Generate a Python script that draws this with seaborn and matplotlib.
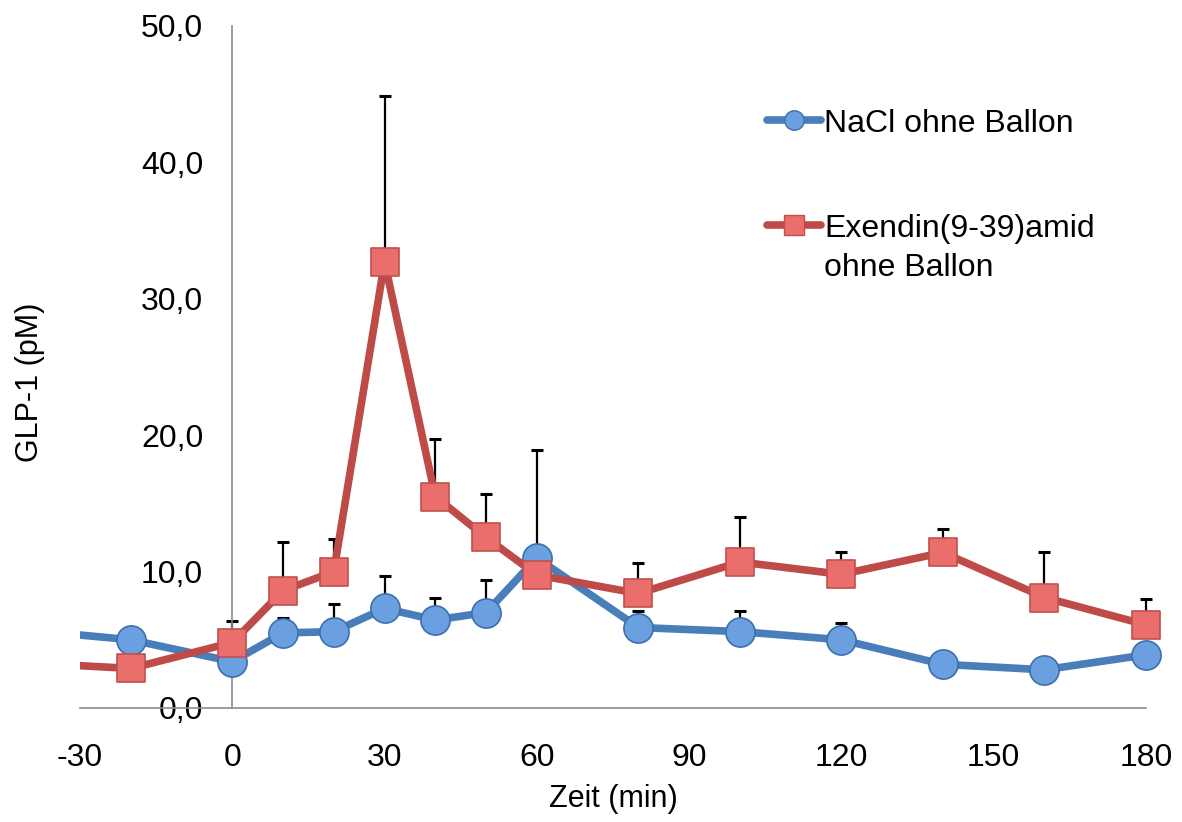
import numpy as np
import pandas as pd
import matplotlib
matplotlib.use("Agg")
import matplotlib.pyplot as plt
from matplotlib.lines import Line2D
from matplotlib.legend_handler import HandlerLine2D
import seaborn as sns

# Sampling times (min); the first sample lies before the visible window
zeit = [-40, -20, 0, 10, 20, 30, 40, 50, 60, 80, 100, 120, 140, 160, 180]

# GLP-1 (pM), mean values
nacl = [5.7, 5.0, 3.4, 5.5, 5.6, 7.3, 6.45, 7.0, 11.0, 5.9, 5.6, 5.0, 3.2, 2.8, 3.9]
exendin = [3.3, 2.9, 4.8, 8.6, 10.0, 32.7, 15.5, 12.5, 9.75, 8.4, 10.7, 9.8, 11.4, 8.1, 6.1]

# Upper end of the error bars (mean + SEM); NaN where no bar is shown
nacl_upper = [np.nan, np.nan, np.nan, 6.6, 7.6, 9.7, 8.1, 9.4, 18.9, 7.1, 7.1, 6.2, np.nan, np.nan, np.nan]
exendin_upper = [np.nan, np.nan, 6.4, 12.2, 12.4, 44.9, 19.7, 15.7, np.nan, 10.6, 14.0, 11.4, 13.1, 11.4, 8.0]

label_nacl = "NaCl ohne Ballon"
label_exendin = "Exendin(9-39)amid\nohne Ballon"

x_ticks = [-30, 0, 30, 60, 90, 120, 150, 180]
y_ticks = [0, 10, 20, 30, 40, 50]
y_ticklabels = ["0,0", "10,0", "20,0", "30,0", "40,0", "50,0"]

X_MIN, X_MAX = -30, 180

sns.set_theme(style="white")
plt.rcParams["font.family"] = ["Liberation Sans", "DejaVu Sans"]
plt.rcParams["text.color"] = "black"
plt.rcParams["axes.labelcolor"] = "black"

fig = plt.figure(figsize=(11.82, 8.22), dpi=100)
ax = fig.add_axes([0.0677, 0.1387, 0.9018, 0.8297])

blue_line = "#4a7ebb"
blue_face = "#6a9fe0"
blue_edge = "#3d6fae"
red_line = "#be4b48"
red_face = "#ea6f6c"
red_edge = "#c0504d"

df = pd.DataFrame({
    "Zeit": zeit * 2,
    "GLP1": nacl + exendin,
    "Gruppe": [label_nacl] * len(zeit) + [label_exendin] * len(zeit),
})
visible = df[(df.Zeit >= X_MIN) & (df.Zeit <= X_MAX)]

# Upper-only error bars, drawn beneath the lines and markers
for means, upper in ((nacl, nacl_upper), (exendin, exendin_upper)):
    m = np.array(means)
    u = np.array(upper)
    ok = ~np.isnan(u)
    ax.errorbar(np.array(zeit)[ok], m[ok], yerr=[np.zeros(ok.sum()), (u - m)[ok]],
                fmt="none", ecolor="black", elinewidth=1.6, capsize=4, capthick=2.2,
                zorder=1, clip_on=False)

series = [
    (label_nacl, blue_line, blue_face, blue_edge, "o", 21, 2),
    (label_exendin, red_line, red_face, red_edge, "s", 20, 4),
]
for label, lc, fc, ec, mk, ms, z in series:
    sub = df[df.Gruppe == label]
    # connecting line, clipped at the plot edges
    sns.lineplot(data=sub, x="Zeit", y="GLP1", ax=ax, color=lc, linewidth=5.5,
                 legend=False, zorder=z)
    # markers at the visible sampling times
    sns.scatterplot(data=visible[visible.Gruppe == label], x="Zeit", y="GLP1", ax=ax,
                    marker=mk, s=ms ** 2, color=fc, edgecolor=ec, linewidth=1.2,
                    legend=False, zorder=z + 1, clip_on=False)

ax.set_xlim(X_MIN, X_MAX)
ax.set_ylim(0, 50)
ax.set_xticks(x_ticks)
ax.set_xticklabels([str(t) for t in x_ticks])
ax.set_yticks(y_ticks)
ax.set_yticklabels(y_ticklabels)

# Value axis crosses the time axis at t = 0
ax.spines["left"].set_position(("data", 0))
for side in ("top", "right"):
    ax.spines[side].set_visible(False)
for side in ("left", "bottom"):
    ax.spines[side].set_color("#8c8c8c")
    ax.spines[side].set_linewidth(1.2)

ax.tick_params(axis="both", which="major", direction="out", length=9, width=1.2,
               color="#8c8c8c", labelsize=23, labelcolor="black")
ax.tick_params(axis="x", pad=16)
ax.tick_params(axis="y", pad=12)

ax.set_xlabel("Zeit (min)", fontsize=22, labelpad=8)
ax.set_ylabel("")
fig.text(0.025, 0.535, "GLP-1 (pM)", rotation=90, fontsize=22, ha="center", va="center")


class FirstLineHandler(HandlerLine2D):
    """Places the legend key level with the first line of a two-line label."""

    def __init__(self, lift=0.0, **kw):
        super().__init__(**kw)
        self.lift = lift

    def create_artists(self, legend, orig_handle, xdescent, ydescent, width, height,
                       fontsize, trans):
        return super().create_artists(legend, orig_handle, xdescent,
                                      ydescent - self.lift * fontsize, width, height,
                                      fontsize, trans)


h_nacl = Line2D([], [], color=blue_line, linewidth=5.5, marker="o", markersize=14,
                markerfacecolor=blue_face, markeredgecolor=blue_edge, markeredgewidth=1.0)
h_exe = Line2D([], [], color=red_line, linewidth=5.5, marker="s", markersize=14,
               markerfacecolor=red_face, markeredgecolor=red_edge, markeredgewidth=1.0)

leg = ax.legend([h_nacl, h_exe], [label_nacl, label_exendin],
                handler_map={h_exe: FirstLineHandler(lift=1.5)},
                loc="upper left", bbox_to_anchor=(0.6175, 0.921), frameon=False,
                fontsize=23, handlelength=1.7, handletextpad=0.1, labelspacing=2.35)
for t in leg.get_texts():
    t.set_linespacing(1.4)

fig.savefig("out.png", dpi=100, facecolor="white")
